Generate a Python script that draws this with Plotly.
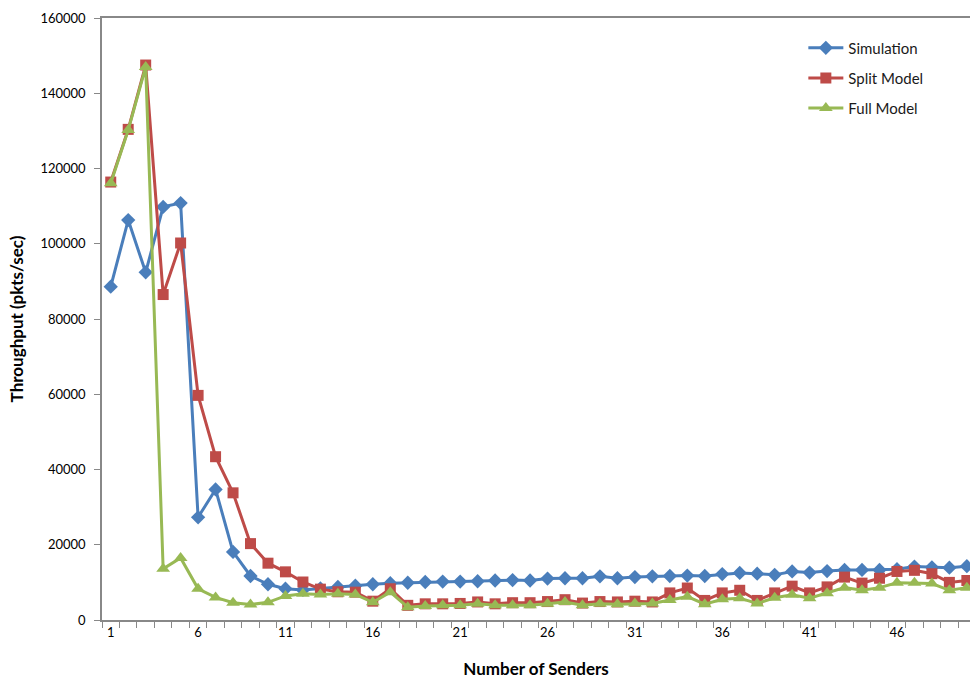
import plotly.graph_objects as go

senders = list(range(1, 51))
simulation = [88600, 106300, 92400, 109800, 110800, 27300, 34700, 18100, 11700, 9500,
              8300, 8000, 8400, 8800, 9100, 9500, 9800, 9900, 10100, 10200,
              10200, 10300, 10500, 10600, 10500, 11000, 11100, 11100, 11600, 11100,
              11400, 11600, 11700, 11800, 11700, 12200, 12500, 12300, 12000, 12900,
              12600, 13000, 13300, 13300, 13300, 13500, 14200, 14000, 13900, 14300]
split_model = [116400, 130400, 147500, 86500, 100200, 59700, 43400, 33800, 20300, 15100,
               12800, 10100, 8200, 7500, 7400, 5000, 8300, 3900, 4300, 4300,
               4400, 4800, 4300, 4600, 4600, 4900, 5400, 4500, 4900, 4800,
               5000, 4800, 7200, 8500, 5200, 7200, 7900, 5200, 7200, 9000,
               7200, 8800, 11400, 9800, 11100, 12900, 13200, 12300, 10000, 10500]
full_model = [116100, 130200, 147000, 13600, 16500, 8300, 6000, 4600, 4100, 4700,
              6400, 7000, 6800, 7000, 6800, 4700, 7400, 3400, 3700, 3900,
              3900, 4300, 3900, 3900, 3900, 4300, 4800, 3900, 4300, 4200,
              4400, 4400, 5300, 6200, 4200, 5500, 5800, 4400, 5900, 6700,
              5800, 7100, 8600, 7900, 8600, 9900, 9900, 9700, 7900, 8600]
x_tick_vals = [1, 6, 11, 16, 21, 26, 31, 36, 41, 46]
y_tick_vals = [0, 20000, 40000, 60000, 80000, 100000, 120000, 140000, 160000]

FONT = "Lato, 'Open Sans', sans-serif"

fig = go.Figure()
fig.add_trace(go.Scatter(x=senders, y=simulation, name="Simulation", mode="lines+markers",
                         line=dict(color="#4A7EBB", width=3),
                         marker=dict(symbol="diamond", size=11, color="#4A7EBB"),
                         legend="legend"))
fig.add_trace(go.Scatter(x=senders, y=split_model, name="Split Model", mode="lines+markers",
                         line=dict(color="#BE4B48", width=3),
                         marker=dict(symbol="square", size=11, color="#BE4B48"),
                         legend="legend2"))
fig.add_trace(go.Scatter(x=senders, y=full_model, name="Full Model", mode="lines+markers",
                         line=dict(color="#98B954", width=3),
                         marker=dict(symbol="triangle-up", size=12, color="#98B954"),
                         legend="legend3"))

leg_common = dict(x=0.808, xanchor="left", yanchor="middle",
                  font=dict(size=15, family=FONT, color="#1a1a1a"), bgcolor="rgba(0,0,0,0)",
                  itemwidth=35)

fig.update_layout(
    width=970, height=683,
    margin=dict(l=102, r=0, t=18, b=63),
    paper_bgcolor="white", plot_bgcolor="white",
    font=dict(family=FONT, size=13, color="#000000"),
    showlegend=True,
    legend=dict(y=0.950, **leg_common),
    legend2=dict(y=0.900, **leg_common),
    legend3=dict(y=0.850, **leg_common),
    xaxis=dict(range=[0.5, 50.18], tickvals=x_tick_vals, ticktext=[str(v) for v in x_tick_vals],
               showgrid=False, zeroline=False, showline=True, linecolor="#888888", linewidth=1.5,
               mirror=True, ticks="", tickfont=dict(size=13),
               minor=dict(ticks="outside", tick0=0.5, dtick=1, ticklen=6, tickcolor="#888888", tickwidth=1),
               title=dict(text="<b>Number of Senders</b>", font=dict(size=17), standoff=24)),
    yaxis=dict(range=[0, 160000], tickvals=y_tick_vals, ticktext=[str(v) for v in y_tick_vals],
               showgrid=False, zeroline=False, showline=True, linecolor="#888888", linewidth=1.5,
               ticks="outside", ticklen=6, tickcolor="#888888", tickfont=dict(size=13),
               ticklabelstandoff=6,
               title=dict(text="<b>Throughput (pkts/sec)</b>", font=dict(size=17), standoff=12)),
)

fig.write_html("out.html")
